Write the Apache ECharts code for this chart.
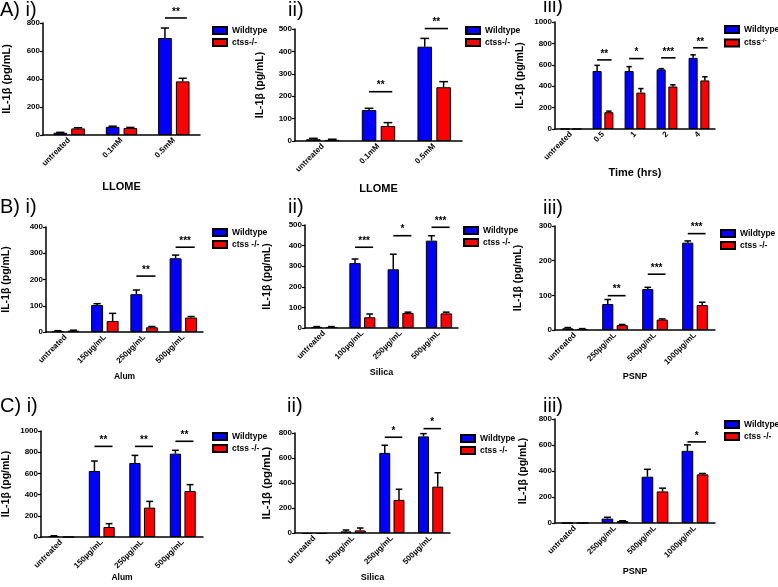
<!DOCTYPE html>
<html>
<head>
<meta charset="utf-8">
<script src="https://cdn.jsdelivr.net/npm/echarts@6/dist/echarts.min.js"></script>
<style>html,body{margin:0;padding:0;background:#fff}#c{width:778px;height:587px}</style>
</head>
<body>
<div id="c"></div>
<script>
// ---------- DATA ----------
const catsLLOME = ['untreated', '0.1mM', '0.5mM'];
const catsTime = ['untreated', '0.5', '1', '2', '4'];
const catsAlum = ['untreated', '150µg/mL', '250µg/mL', '500µg/mL'];
const catsSilica = ['untreated', '100µg/mL', '250µg/mL', '500µg/mL'];
const catsPSNP = ['untreated', '250µg/mL', '500µg/mL', '1000µg/mL'];

// A) i)
const aiWT = [16, 58, 693];
const aiWTErr = [3, 5, 71];
const aiKO = [47, 50, 383];
const aiKOErr = [5, 4, 22];
const aiSigCat = [2];
const aiSigVal = [836];
const aiSigTxt = ['**'];

// A) ii)
const aiiWT = [8, 138, 421];
const aiiWTErr = [4, 8, 37];
const aiiKO = [5, 67, 240];
const aiiKOErr = [3, 15, 25];
const aiiSigCat = [1, 2];
const aiiSigVal = [220, 502];
const aiiSigTxt = ['**', '**'];

// A) iii)
const aiiiWT = [0, 542, 542, 557, 665];
const aiiiWTErr = [0, 53, 41, 7, 28];
const aiiiKO = [0, 157, 340, 397, 454];
const aiiiKOErr = [0, 10, 38, 16, 34];
const aiiiSigCat = [1, 2, 3, 4];
const aiiiSigVal = [646, 658, 665, 759];
const aiiiSigTxt = ['**', '*', '***', '**'];

// B) i)
const biWT = [3, 103, 144, 281];
const biWTErr = [2, 5, 16, 12];
const biKO = [5, 42, 18, 55];
const biKOErr = [2, 29, 3, 4];
const biSigCat = [2, 3];
const biSigVal = [213, 323];
const biSigTxt = ['**', '***'];

// B) ii)
const biiWT = [5, 315, 285, 424];
const biiWTErr = [2, 20, 73, 24];
const biiKO = [5, 52, 73, 71];
const biiKOErr = [2, 16, 4, 6];
const biiSigCat = [1, 2, 3];
const biiSigVal = [392, 448, 489];
const biiSigTxt = ['***', '*', '***'];

// B) iii)
const biiiWT = [5, 75, 118, 252];
const biiiWTErr = [2, 13, 5, 5];
const biiiKO = [3, 14, 30, 72];
const biiiKOErr = [1, 2, 2, 8];
const biiiSigCat = [1, 2, 3];
const biiiSigVal = [99, 161, 278];
const biiiSigTxt = ['**', '***', '***'];

// C) i)
const ciWT = [9, 623, 698, 786];
const ciWTErr = [3, 94, 72, 32];
const ciKO = [0, 94, 277, 434];
const ciKOErr = [0, 32, 59, 60];
const ciSigCat = [1, 2, 3];
const ciSigVal = [855, 855, 903];
const ciSigTxt = ['**', '**', '**'];

// C) ii)
const ciiWT = [-8, 13, 641, 773];
const ciiWTErr = [0, 11, 61, 22];
const ciiKO = [-8, 21, 265, 371];
const ciiKOErr = [0, 19, 85, 111];
const ciiSigCat = [2, 3];
const ciiSigVal = [766, 835];
const ciiSigTxt = ['*', '*'];

// C) iii)
const ciiiWT = [0, 34, 356, 555];
const ciiiWTErr = [0, 10, 57, 46];
const ciiiKO = [0, 15, 243, 374];
const ciiiKOErr = [0, 2, 25, 7];
const ciiiSigCat = [3];
const ciiiSigVal = [624];
const ciiiSigTxt = ['*'];

const yMax = [800, 500, 1000, 400, 500, 300, 1000, 800, 800];
const yInterval = [200, 100, 200, 100, 100, 100, 200, 200, 200];
const yTitle = 'IL-1β (pg/mL)';
const xTitles = ['LLOME', 'LLOME', 'Time (hrs)', 'Alum', 'Silica', 'PSNP', 'Alum', 'Silica', 'PSNP'];
const panelLabels = ['A) i)', 'ii)', 'iii)', 'B) i)', 'ii)', 'iii)', 'C) i)', 'ii)', 'iii)'];
const wtName = 'Wildtype';
const koNames = ['ctss-/-', 'ctss-/-', 'ctss-/-', 'ctss -/-', 'ctss -/-', 'ctss -/-', 'ctss -/-', 'ctss -/-', 'ctss -/-'];

// ---------- LAYOUT ----------
const FONT = '"Liberation Sans", Arial, Helvetica, sans-serif';
const BLUE = '#0000ff';
const RED = '#ff0000';
const BARGAP = 0.3;

const panels = [
  {cats: catsLLOME, wt: aiWT, wtE: aiWTErr, ko: aiKO, koE: aiKOErr, sc: aiSigCat, sv: aiSigVal, st: aiSigTxt,
   grid: {left: 40, top: 23, width: 160, height: 112}, leg: {left: 212, top: 26}, lab: [0, 0],
   cg: 0.40, yGap: 31, yFont: 11, xGap: 46, xFont: 11},
  {cats: catsLLOME, wt: aiiWT, wtE: aiiWTErr, ko: aiiKO, koE: aiiKOErr, sc: aiiSigCat, sv: aiiSigVal, st: aiiSigTxt,
   grid: {left: 295, top: 29, width: 167, height: 112}, leg: {left: 465, top: 26}, lab: [288, 0],
   cg: 0.40, yGap: 29, yFont: 10.5, xGap: 42, xFont: 11},
  {cats: catsTime, wt: aiiiWT, wtE: aiiiWTErr, ko: aiiiKO, koE: aiiiKOErr, sc: aiiiSigCat, sv: aiiiSigVal, st: aiiiSigTxt,
   grid: {left: 555, top: 22, width: 160, height: 107}, leg: {left: 724, top: 25}, lab: [543, -4],
   cg: 0.35, yGap: 29, yFont: 10.5, xGap: 38, xFont: 11, sup: true},
  {cats: catsAlum, wt: biWT, wtE: biWTErr, ko: biKO, koE: biKOErr, sc: biSigCat, sv: biSigVal, st: biSigTxt,
   grid: {left: 45, top: 227, width: 158, height: 105}, leg: {left: 212, top: 228}, lab: [0, 197],
   cg: 0.30, yGap: 34, yFont: 10.5, xGap: 40, xFont: 8.5},
  {cats: catsSilica, wt: biiWT, wtE: biiWTErr, ko: biiKO, koE: biiKOErr, sc: biiSigCat, sv: biiSigVal, st: biiSigTxt,
   grid: {left: 305, top: 225, width: 153, height: 103}, leg: {left: 463, top: 226}, lab: [288, 197],
   cg: 0.32, yGap: 32, yFont: 10.5, xGap: 40, xFont: 9},
  {cats: catsPSNP, wt: biiiWT, wtE: biiiWTErr, ko: biiiKO, koE: biiiKOErr, sc: biiiSigCat, sv: biiiSigVal, st: biiiSigTxt,
   grid: {left: 555, top: 226, width: 160, height: 104}, leg: {left: 720, top: 229}, lab: [543, 198],
   cg: 0.36, yGap: 31, yFont: 10.5, xGap: 42, xFont: 9},
  {cats: catsAlum, wt: ciWT, wtE: ciWTErr, ko: ciKO, koE: ciKOErr, sc: ciSigCat, sv: ciSigVal, st: ciSigTxt,
   grid: {left: 40, top: 431, width: 163, height: 106}, leg: {left: 212, top: 432}, lab: [0, 396],
   cg: 0.36, yGap: 29, yFont: 10.5, xGap: 35, xFont: 8.5},
  {cats: catsSilica, wt: ciiWT, wtE: ciiWTErr, ko: ciiKO, koE: ciiKOErr, sc: ciiSigCat, sv: ciiSigVal, st: ciiSigTxt,
   grid: {left: 295, top: 433, width: 155, height: 100}, leg: {left: 460, top: 434}, lab: [287, 396],
   cg: 0.35, yGap: 22, yFont: 11.5, xGap: 40, xFont: 9},
  {cats: catsPSNP, wt: ciiiWT, wtE: ciiiWTErr, ko: ciiiKO, koE: ciiiKOErr, sc: ciiiSigCat, sv: ciiiSigVal, st: ciiiSigTxt,
   grid: {left: 555, top: 419, width: 160, height: 104}, leg: {left: 724, top: 420}, lab: [543, 396],
   cg: 0.33, yGap: 26, yFont: 10.5, xGap: 44, xFont: 9}
];

function barCenter(api, cat, g, cg) {
  const band = api.size([1, 0])[0];
  const w = band * (1 - cg) / (2 + BARGAP);
  const total = w * (2 + BARGAP);
  const c = api.coord([cat, 0])[0] - total / 2 + g * w * (1 + BARGAP) + w / 2;
  return {c: c, w: w};
}

const grids = [], xAxes = [], yAxes = [], series = [], legends = [], graphics = [];

panels.forEach(function (p, i) {
  grids.push(Object.assign({containLabel: false}, p.grid));
  xAxes.push({
    type: 'category', gridIndex: i, data: p.cats,
    name: xTitles[i], nameLocation: 'middle', nameGap: p.xGap,
    nameTextStyle: {fontFamily: FONT, fontWeight: 'bold', fontSize: p.xFont, color: '#000'},
    axisLine: {lineStyle: {color: '#000', width: 1.5}},
    axisTick: {alignWithLabel: true, length: 3, lineStyle: {color: '#000', width: 1.2}},
    axisLabel: {rotate: 45, fontFamily: FONT, fontWeight: 'bold', fontSize: 8, color: '#000', margin: 4, interval: 0},
    splitLine: {show: false}
  });
  yAxes.push({
    type: 'value', gridIndex: i, min: 0, max: yMax[i], interval: yInterval[i],
    name: yTitle, nameLocation: 'middle', nameGap: p.yGap, nameRotate: 90,
    nameTextStyle: {fontFamily: FONT, fontWeight: 'bold', fontSize: p.yFont, color: '#000'},
    axisLine: {show: true, lineStyle: {color: '#000', width: 1.5}},
    axisTick: {show: true, length: 3, lineStyle: {color: '#000', width: 1.2}},
    axisLabel: {fontFamily: FONT, fontWeight: 'bold', fontSize: 8, color: '#000', margin: 3,
                formatter: function (v) { return String(v); }},
    splitLine: {show: false}
  });
  const barCommon = {
    type: 'bar', xAxisIndex: i, yAxisIndex: i, barGap: (BARGAP * 100) + '%', barCategoryGap: (p.cg * 100) + '%',
    clip: false, animation: false
  };
  series.push(Object.assign({}, barCommon, {
    name: wtName, data: p.wt, itemStyle: {color: BLUE, borderColor: '#000', borderWidth: 1}
  }));
  series.push(Object.assign({}, barCommon, {
    name: koNames[i], data: p.ko, itemStyle: {color: RED, borderColor: '#000', borderWidth: 1}
  }));
  // error bars
  const errData = [];
  p.cats.forEach(function (c, k) {
    if (p.wtE[k] > 0) errData.push([k, p.wt[k], p.wt[k] + p.wtE[k], 0]);
    if (p.koE[k] > 0) errData.push([k, p.ko[k], p.ko[k] + p.koE[k], 1]);
  });
  series.push({
    type: 'custom', xAxisIndex: i, yAxisIndex: i, data: errData, clip: false, animation: false, z: 3,
    renderItem: function (params, api) {
      const cat = api.value(0), v = api.value(1), t = api.value(2), g = api.value(3);
      const b = barCenter(api, cat, g, p.cg);
      const y0 = api.coord([cat, v])[1], y1 = api.coord([cat, t])[1];
      const hw = Math.max(b.w * 0.3, 2.5);
      return {type: 'group', children: [
        {type: 'line', shape: {x1: b.c, y1: y0, x2: b.c, y2: y1}, style: {stroke: '#000', lineWidth: 1.5}},
        {type: 'line', shape: {x1: b.c - hw, y1: y1, x2: b.c + hw, y2: y1}, style: {stroke: '#000', lineWidth: 1.5}}
      ]};
    }
  });
  // significance
  const sigData = p.sc.map(function (c, k) { return [c, p.sv[k]]; });
  series.push({
    type: 'custom', xAxisIndex: i, yAxisIndex: i, data: sigData, clip: false, animation: false, z: 4,
    renderItem: function (params, api) {
      const cat = api.value(0), v = api.value(1);
      const b0 = barCenter(api, cat, 0, p.cg), b1 = barCenter(api, cat, 1, p.cg);
      const x0 = b0.c, x1 = b1.c + b1.w * 0.3;
      const y = api.coord([cat, v])[1];
      return {type: 'group', children: [
        {type: 'line', shape: {x1: x0, y1: y, x2: x1, y2: y}, style: {stroke: '#000', lineWidth: 1.6}},
        {type: 'text', x: (x0 + x1) / 2, y: y - 1,
         style: {text: p.st[params.dataIndex], fill: '#000', align: 'center', verticalAlign: 'bottom',
                 font: 'bold 10px ' + FONT}}
      ]};
    }
  });
  const leg = {
    data: [wtName, koNames[i]], left: p.leg.left, top: p.leg.top, orient: 'vertical',
    icon: 'rect', itemWidth: 14, itemHeight: 7, itemGap: 3, padding: 0, selectedMode: false,
    textStyle: {fontFamily: FONT, fontWeight: 'bold', fontSize: 8.5, color: '#000'}
  };
  if (p.sup) {
    leg.formatter = function (name) { return name === wtName ? name : '{b|ctss}{s|-/-}'; };
    leg.textStyle.rich = {
      b: {fontFamily: FONT, fontWeight: 'bold', fontSize: 8.5, color: '#000'},
      s: {fontFamily: FONT, fontWeight: 'bold', fontSize: 6, color: '#000', padding: [0, 0, 6, 0]}
    };
  }
  legends.push(leg);
  graphics.push({
    type: 'text', left: p.lab[0], top: p.lab[1],
    style: {text: panelLabels[i], font: '20px ' + FONT, fill: '#000'}
  });
});

const chart = echarts.init(document.getElementById('c'), null, {renderer: 'canvas'});
chart.setOption({
  animation: false,
  backgroundColor: '#fff',
  grid: grids, xAxis: xAxes, yAxis: yAxes, series: series, legend: legends, graphic: graphics
});
</script>
</body>
</html>
